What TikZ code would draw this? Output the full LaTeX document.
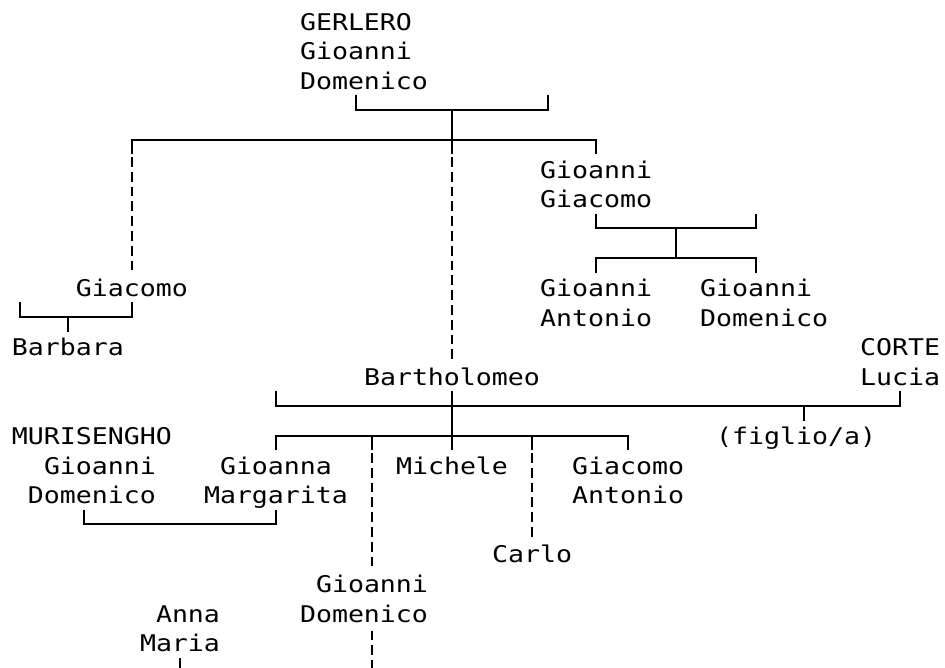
\documentclass[tikz,border=0pt]{standalone}
\usepackage{fontspec}
\newfontfamily\tmono[FakeStretch=1.1555]{DejaVu Sans Mono}
\newcommand\txt[4]{\node[lbl] (#1) at ({#2-0.5},{#3+0.30}) {#4};}
\begin{document}
\begin{tikzpicture}[x=16pt,y=-29.6pt,
  lbl/.style={anchor=base west,inner sep=0pt,outer sep=0pt,font=\tmono\fontsize{23}{27}\selectfont},
  ln/.style={line width=2pt,line cap=butt,line join=miter},
  dl/.style={line width=2pt,dash pattern=on 9.8pt off 5pt,dash phase=12.3pt}]
\useasboundingbox (-1.25,-0.7162) rectangle (57.8125,21.8176);
% texts
\txt{g1}{18}{0}{GERLERO}
\txt{g2}{18}{1}{Gioanni}
\txt{g3}{18}{2}{Domenico}
\txt{gg1}{33}{5}{Gioanni}
\txt{gg2}{33}{6}{Giacomo}
\txt{gc}{4}{9}{Giacomo}
\txt{ga1}{33}{9}{Gioanni}
\txt{ga2}{33}{10}{Antonio}
\txt{gd1}{43}{9}{Gioanni}
\txt{gd2}{43}{10}{Domenico}
\txt{barb}{0}{11}{Barbara}
\txt{co1}{53}{11}{CORTE}
\txt{co2}{53}{12}{Lucia}
\txt{bart}{22}{12}{Bartholomeo}
\txt{mu1}{0}{14}{MURISENGHO}
\txt{fig}{44}{14}{(figlio/a)}
\txt{mu2}{2}{15}{Gioanni}
\txt{mu3}{1}{16}{Domenico}
\txt{gm1}{13}{15}{Gioanna}
\txt{gm2}{12}{16}{Margarita}
\txt{mich}{24}{15}{Michele}
\txt{gca1}{35}{15}{Giacomo}
\txt{gca2}{35}{16}{Antonio}
\txt{carl}{30}{18}{Carlo}
\txt{gdo1}{19}{19}{Gioanni}
\txt{gdo2}{18}{20}{Domenico}
\txt{am1}{9}{20}{Anna}
\txt{am2}{8}{21}{Maria}
% connectors
\draw[ln] (21,2.5) -- (21,3) -- (33,3) -- (33,2.5);
\draw[ln] (27,3) -- (27,4.5);
\draw[ln] (7,4.5) -- (7,4) -- (36,4) -- (36,4.5);
\draw[dl] (27,4.5) -- (27,11.5);
\draw[dl] (7,4.5) -- (7,8.5);
\draw[ln] (36,6.5) -- (36,7) -- (46,7) -- (46,6.5);
\draw[ln] (41,7) -- (41,8);
\draw[ln] (36,8.5) -- (36,8) -- (46,8) -- (46,8.5);
\draw[ln] (0,9.5) -- (0,10) -- (7,10) -- (7,9.5);
\draw[ln] (3,10) -- (3,10.5);
\draw[ln] (16,12.5) -- (16,13) -- (55,13) -- (55,12.5);
\draw[ln] (27,12.5) -- (27,14.5);
\draw[ln] (49,13) -- (49,13.5);
\draw[ln] (16,14.5) -- (16,14) -- (38,14) -- (38,14.5);
\draw[ln] (22,14) -- (22,14.5);
\draw[ln] (32,14) -- (32,14.5);
\draw[dl] (22,14.5) -- (22,18.5);
\draw[dl] (32,14.5) -- (32,17.5);
\draw[ln] (4,16.5) -- (4,17) -- (16,17) -- (16,16.5);
\draw[dl] (22,20.5) -- (22,22.5);
\draw[ln] (10,21.5) -- (10,22.5);
\end{tikzpicture}
\end{document}
